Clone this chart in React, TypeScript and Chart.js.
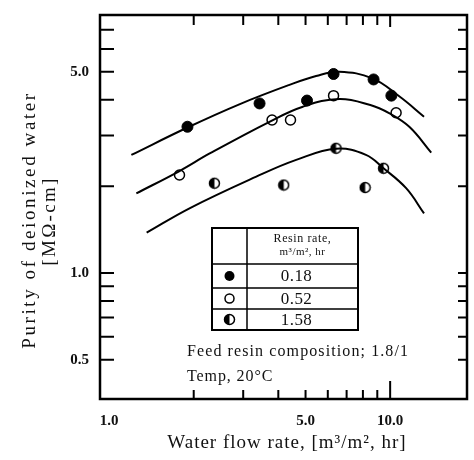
import React, { useEffect, useRef } from "react";
import { Chart, registerables } from "chart.js";
Chart.register(...registerables);

// Measured points (water flow rate m3/m2.hr, purity MΩ-cm)
const flowRate018 = [1.9, 3.43, 5.06, 6.29, 8.73, 10.1];
const purity018 = [3.22, 3.88, 3.97, 4.91, 4.7, 4.13];
const flowRate052 = [1.78, 3.8, 4.42, 6.29, 10.5];
const purity052 = [2.19, 3.4, 3.4, 4.13, 3.6];
const flowRate158 = [2.37, 4.18, 6.42, 8.15, 9.47];
const purity158 = [2.05, 2.02, 2.71, 1.98, 2.31];

// Hand-drawn trend curves
const curve018X = [1.2, 1.9, 2.92, 4.38, 5.45, 6.59, 8.65, 10.8, 13.2];
const curve018Y = [2.57, 3.2, 3.86, 4.5, 4.83, 5.0, 4.74, 4.1, 3.49];
const curve052X = [1.25, 1.78, 2.28, 3.72, 4.89, 6.59, 8.5, 9.91, 11.7, 14.0];
const curve052Y = [1.89, 2.26, 2.6, 3.35, 3.78, 4.02, 3.83, 3.59, 3.22, 2.62];
const curve158X = [1.36, 1.94, 3.34, 4.63, 6.42, 8.2, 9.47, 11.4, 13.2];
const curve158Y = [1.38, 1.68, 2.16, 2.47, 2.7, 2.57, 2.31, 1.97, 1.61];

// Axis ticks
const xLabelTicks = [1, 5, 10];
const yLabelTicks = [0.5, 1, 5];
const xMinorTicks = [2, 3, 4, 5, 6, 7, 8, 9, 10];
const yMinorTicks = [0.5, 0.6, 0.7, 0.8, 0.9, 1, 2, 3, 4, 5, 6, 7];

const resinRates = ["0.18", "0.52", "1.58"];

const SERIF = "'Liberation Serif', 'DejaVu Serif', serif";

function makeHalfMarker(): HTMLCanvasElement {
  const c = document.createElement("canvas");
  c.width = 13;
  c.height = 13;
  const g = c.getContext("2d")!;
  g.beginPath();
  g.arc(6.5, 6.5, 5, 0, Math.PI * 2);
  g.fillStyle = "#fff";
  g.fill();
  g.beginPath();
  g.moveTo(6.5, 6.5);
  g.arc(6.5, 6.5, 5, Math.PI / 2, (3 * Math.PI) / 2);
  g.closePath();
  g.fillStyle = "#000";
  g.fill();
  g.beginPath();
  g.arc(6.5, 6.5, 5, 0, Math.PI * 2);
  g.lineWidth = 1.5;
  g.strokeStyle = "#000";
  g.stroke();
  return c;
}

function drawSpaced(ctx: any, text: string, x: number, y: number, spacing: number, align: string) {
  (ctx as any).letterSpacing = spacing + "px";
  ctx.textAlign = align;
  ctx.fillText(text, x, y);
  (ctx as any).letterSpacing = "0px";
}

export default function App() {
  const ref = useRef<HTMLCanvasElement>(null);
  useEffect(() => {
    const half = makeHalfMarker();
    const pts = (xs: number[], ys: number[]) => xs.map((x, i) => ({ x, y: ys[i] }));

    const framePlugin = {
      id: "frame",
      afterDraw(chart: any) {
        const ctx = chart.ctx;
        const a = chart.chartArea;
        const xs = chart.scales.x;
        const ys = chart.scales.y;
        ctx.save();
        ctx.strokeStyle = "#000";
        ctx.lineWidth = 2.5;
        ctx.strokeRect(a.left, a.top, a.right - a.left, a.bottom - a.top);
        ctx.lineWidth = 2;
        ctx.beginPath();
        xMinorTicks.forEach((v) => {
          const px = xs.getPixelForValue(v);
          const lb = v === 10 ? 18 : 9;
          ctx.moveTo(px, a.bottom);
          ctx.lineTo(px, a.bottom - lb);
          const lt = v === 10 ? 12 : 10;
          ctx.moveTo(px, a.top);
          ctx.lineTo(px, a.top + lt);
        });
        yMinorTicks.forEach((v) => {
          const py = ys.getPixelForValue(v);
          ctx.moveTo(a.left, py);
          ctx.lineTo(a.left + 14, py);
          ctx.moveTo(a.right, py);
          ctx.lineTo(a.right - 9, py);
        });
        ctx.stroke();

        // Legend table
        const L = a.left + 112;
        const R = a.left + 258;
        const T = a.top + 213;
        const B = a.top + 315;
        const C = a.left + 147;
        const rows = [T + 36, T + 60, T + 81];
        ctx.lineWidth = 2;
        ctx.strokeRect(L, T, R - L, B - T);
        ctx.lineWidth = 1.5;
        ctx.beginPath();
        ctx.moveTo(C, T);
        ctx.lineTo(C, B);
        rows.forEach((ry) => {
          ctx.moveTo(L, ry);
          ctx.lineTo(R, ry);
        });
        ctx.stroke();
        ctx.fillStyle = "#111";
        ctx.textBaseline = "middle";
        ctx.font = `12px ${SERIF}`;
        drawSpaced(ctx, "Resin rate,", (C + R) / 2, T + 11, 0.6, "center");
        ctx.font = `11px ${SERIF}`;
        drawSpaced(ctx, "m³/m², hr", (C + R) / 2, T + 24, 0.5, "center");
        ctx.font = `17px ${SERIF}`;
        const cy = [(rows[0] + rows[1]) / 2, (rows[1] + rows[2]) / 2, (rows[2] + B) / 2];
        resinRates.forEach((r, i) => {
          drawSpaced(ctx, r, (C + R) / 2 - 6, cy[i] + 1, 0.4, "center");
        });
        const mx = (L + C) / 2;
        ctx.beginPath();
        ctx.arc(mx, cy[0], 5, 0, Math.PI * 2);
        ctx.fillStyle = "#000";
        ctx.fill();
        ctx.beginPath();
        ctx.arc(mx, cy[1], 4.5, 0, Math.PI * 2);
        ctx.fillStyle = "#fff";
        ctx.fill();
        ctx.lineWidth = 1.5;
        ctx.stroke();
        ctx.drawImage(half, mx - 6.5, cy[2] - 6.5);

        // Notes
        ctx.fillStyle = "#111";
        ctx.font = `16px ${SERIF}`;
        drawSpaced(ctx, "Feed resin composition; 1.8/1", a.left + 87, a.top + 337, 1.1, "left");
        drawSpaced(ctx, "Temp, 20°C", a.left + 87, a.top + 362, 0.9, "left");

        // Axis titles
        ctx.font = `19px ${SERIF}`;
        ctx.fillStyle = "#111";
        drawSpaced(ctx, "Water flow rate, [m³/m², hr]", 287, 443, 1, "center");
        ctx.save();
        ctx.translate(30, 220);
        ctx.rotate(-Math.PI / 2);
        drawSpaced(ctx, "Purity of deionized water", 0, 0, 2.6, "center");
        ctx.restore();
        ctx.save();
        ctx.translate(50, 221);
        ctx.rotate(-Math.PI / 2);
        drawSpaced(ctx, "[MΩ-cm]", 0, 0, 2.3, "center");
        ctx.restore();
        ctx.restore();
      },
    };

    const lineDs = (xs: number[], ys: number[]) => ({
      type: "line" as const,
      data: pts(xs, ys),
      borderColor: "#000",
      borderWidth: 2,
      pointRadius: 0,
      fill: false,
      tension: 0.4,
      showLine: true,
    });

    const chart = new Chart(ref.current!, {
      type: "scatter",
      data: {
        datasets: [
          lineDs(curve018X, curve018Y),
          lineDs(curve052X, curve052Y),
          lineDs(curve158X, curve158Y),
          {
            data: pts(flowRate018, purity018),
            pointStyle: "circle",
            pointRadius: 5.5,
            backgroundColor: "#000",
            borderColor: "#000",
            borderWidth: 1,
          },
          {
            data: pts(flowRate052, purity052),
            pointStyle: "circle",
            pointRadius: 5,
            backgroundColor: "#fff",
            borderColor: "#000",
            borderWidth: 1.5,
          },
          {
            data: pts(flowRate158, purity158),
            pointStyle: half as any,
            pointRadius: 6,
          },
        ] as any,
      },
      options: {
        responsive: false,
        animation: false,
        layout: { padding: { left: 0, right: 6, top: 15, bottom: 0 } },
        plugins: { legend: { display: false }, tooltip: { enabled: false } },
        scales: {
          x: {
            type: "logarithmic",
            min: 0.928,
            max: 18.77,
            grid: { display: false },
            border: { display: false },
            afterBuildTicks: (s: any) => {
              s.ticks = xLabelTicks.map((v) => ({ value: v }));
            },
            afterFit: (s: any) => {
              s.height = 61;
            },
            ticks: {
              autoSkip: false,
              maxRotation: 0,
              padding: 5,
              color: "#111",
              font: { family: SERIF, size: 15, weight: "bold" },
              callback: (v: any) => Number(v).toFixed(1),
            },
          },
          y: {
            type: "logarithmic",
            min: 0.365,
            max: 7.87,
            grid: { display: false },
            border: { display: false },
            afterBuildTicks: (s: any) => {
              s.ticks = yLabelTicks.map((v) => ({ value: v }));
            },
            afterFit: (s: any) => {
              s.width = 100;
            },
            ticks: {
              autoSkip: false,
              padding: 3,
              color: "#111",
              font: { family: SERIF, size: 15, weight: "bold" },
              callback: (v: any) => Number(v).toFixed(1),
            },
          },
        },
      } as any,
      plugins: [framePlugin],
    });
    return () => chart.destroy();
  }, []);

  return (
    <div style={{ position: "absolute", left: 0, top: 0, width: 474, height: 460, background: "#fff" }}>
      <canvas ref={ref} width={474} height={460} style={{ display: "block" }} />
    </div>
  );
}
